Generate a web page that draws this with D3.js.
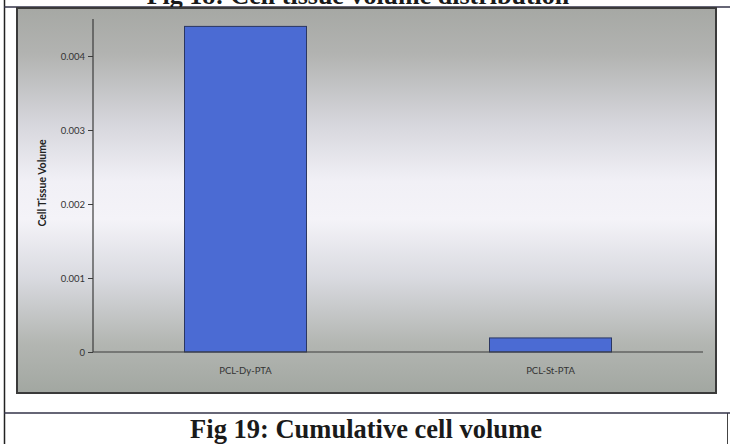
<!DOCTYPE html>
<html>
<head>
<meta charset="utf-8">
<script src="https://cdn.jsdelivr.net/npm/d3@7"></script>
<style>
  html, body { margin: 0; padding: 0; background: #ffffff; }
  svg { display: block; }
</style>
</head>
<body>
<svg id="chart" width="730" height="444"></svg>
<script>
// Chart data
const categories = ["PCL-Dy-PTA", "PCL-St-PTA"];
const volumes = [0.0044, 0.00019];
const yTicks = [0, 0.001, 0.002, 0.003, 0.004];
const yTickLabels = ["0", "0.001", "0.002", "0.003", "0.004"];
const yMax = 0.0045;

const svg = d3.select("#chart");

// Page frame lines
svg.append("line").attr("x1", 4.5).attr("x2", 4.5).attr("y1", 0).attr("y2", 444)
  .attr("stroke", "#222").attr("stroke-width", 1.5);
svg.append("line").attr("x1", 727.5).attr("x2", 727.5).attr("y1", 413).attr("y2", 444)
  .attr("stroke", "#444").attr("stroke-width", 1);
svg.append("line").attr("x1", 4).attr("x2", 730).attr("y1", 7).attr("y2", 7)
  .attr("stroke", "#333348").attr("stroke-width", 1.5);
svg.append("line").attr("x1", 4).attr("x2", 730).attr("y1", 413).attr("y2", 413)
  .attr("stroke", "#333348").attr("stroke-width", 1.5);

// Caption above (partly beyond the page top) and caption below
svg.append("text").attr("x", 358).attr("y", 4)
  .attr("text-anchor", "middle")
  .attr("font-family", "Liberation Serif, Times New Roman, serif")
  .attr("font-weight", "bold").attr("font-size", 26).attr("fill", "#1a1a1a")
  .text("Fig 18: Cell tissue volume distribution");
svg.append("text").attr("x", 366).attr("y", 438)
  .attr("text-anchor", "middle")
  .attr("font-family", "Liberation Serif, Times New Roman, serif")
  .attr("font-weight", "bold").attr("font-size", 26.5).attr("fill", "#1a1a1a")
  .text("Fig 19: Cumulative cell volume");

// Chart area background gradient
const defs = svg.append("defs");
const grad = defs.append("linearGradient").attr("id", "bg")
  .attr("x1", 0).attr("y1", 0).attr("x2", 0).attr("y2", 1);
[
  [0, "#a6a8a4"], [0.12, "#b2b3b1"], [0.3, "#d6d6dc"], [0.45, "#f1f0f6"],
  [0.55, "#f4f3f8"], [0.7, "#d9dae0"], [0.87, "#b3b6b2"], [1, "#a2a7a1"]
].forEach(([o, c]) => grad.append("stop").attr("offset", o).attr("stop-color", c));

svg.append("rect").attr("x", 17).attr("y", 8).attr("width", 699).attr("height", 385)
  .attr("fill", "url(#bg)").attr("stroke", "#3a3a3a").attr("stroke-width", 2);

// Scales
const plot = { left: 93, right: 703, top: 19, bottom: 352 };
const x = d3.scaleBand().domain(categories)
  .range([plot.left, plot.right]).paddingInner(0.6).paddingOuter(0.3);
const y = d3.scaleLinear().domain([0, yMax]).range([plot.bottom, plot.top]);

// Bars
svg.append("g").selectAll("rect").data(categories).join("rect")
  .attr("x", d => x(d))
  .attr("y", (d, i) => y(volumes[i]))
  .attr("width", x.bandwidth())
  .attr("height", (d, i) => y(0) - y(volumes[i]))
  .attr("fill", "#4b6bd3").attr("stroke", "#2b3762").attr("stroke-width", 1);

// Y axis
const yAxis = d3.axisLeft(y).tickValues(yTicks)
  .tickFormat((d, i) => yTickLabels[i]).tickSize(5).tickPadding(3);
const gy = svg.append("g").attr("transform", `translate(${plot.left},0)`).call(yAxis);
gy.select(".domain").attr("stroke", "#3c3c3c").attr("stroke-width", 1.2)
  .attr("d", `M0,${plot.top}V${plot.bottom}`);
gy.selectAll(".tick line").attr("stroke", "#3c3c3c");
gy.selectAll(".tick text").attr("font-family", "Lato, Open Sans, sans-serif")
  .attr("font-size", 9.5).attr("fill", "#333");

// X axis
const xAxis = d3.axisBottom(x).tickSize(0).tickPadding(15);
const gx = svg.append("g").attr("transform", `translate(0,${plot.bottom})`).call(xAxis);
gx.select(".domain").attr("stroke", "#3c3c3c").attr("stroke-width", 1.2)
  .attr("d", `M${plot.left},0H${plot.right}`);
gx.selectAll(".tick text").attr("font-family", "Lato, Open Sans, sans-serif")
  .attr("font-size", 9.5).attr("fill", "#333");

// Y axis title
svg.append("text")
  .attr("transform", "translate(46,183) rotate(-90)")
  .attr("text-anchor", "middle")
  .attr("font-family", "Lato, Open Sans, sans-serif")
  .attr("font-weight", "bold").attr("font-size", 10.5).attr("fill", "#222")
  .text("Cell Tissue Volume");
</script>
</body>
</html>
